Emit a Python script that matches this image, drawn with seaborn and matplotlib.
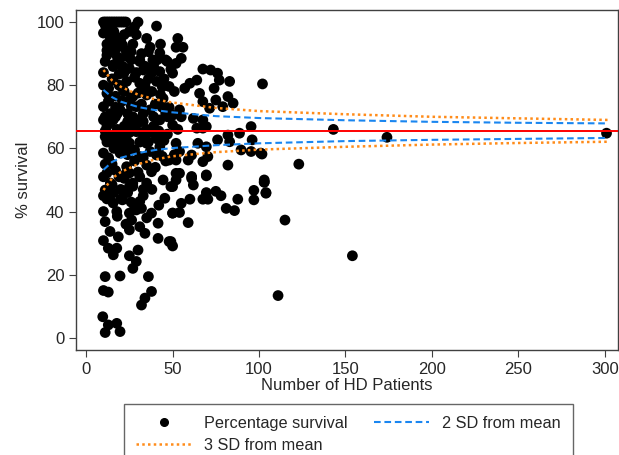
import numpy as np
import pandas as pd
import seaborn as sns
import matplotlib.pyplot as plt
from matplotlib.lines import Line2D

# data
n_patients = [
    10, 11, 12, 13, 14, 15, 16, 17, 18, 19, 20, 21, 22, 23,
    30, 28, 40.7, 10, 17.7, 35, 12, 21, 15.6, 26, 36, 42.6, 52, 31, 38.6, 47,
    11, 19.6, 15.6, 25, 33, 42.6, 50, 15.6, 23.4, 31, 40.7, 48, 12, 27, 35, 44.5,
    10, 19.6, 29, 37, 46, 15.6, 24, 33, 42.6, 12, 50, 19.6, 29, 38.6, 46, 11,
    15.6, 25, 35, 42.6, 52, 10, 19.6, 31, 40.7, 48, 13.8, 23.4, 35, 12, 25, 37.8,
    11, 15.6, 25, 35, 44.5, 50, 15.6, 21, 31, 10, 17.7, 25, 32, 37.8, 45.5, 50,
    11, 26.3, 41.6, 13.8, 25, 31, 34, 41.6, 48, 10, 18.6, 12.8, 17.7, 15.7, 30, 25,
    29, 27, 11, 19.6, 36, 10, 12.8, 37.8, 34, 32, 9.6, 12.8, 11, 17.7, 19.6,
    53, 56, 55, 52, 67.5, 72, 76, 77, 83, 64, 60, 57, 65.6, 74, 51, 67.5, 75, 82,
    85, 79, 71.4, 102, 54, 55, 62, 67.5, 64, 67.5, 69.5, 82, 88.7, 95.4, 76, 83,
    96, 64.6, 69.5, 89.6, 95.4, 101, 54, 61, 70.4, 52, 59, 67.5, 82, 61, 69.5, 52,
    103, 54, 52, 61, 62, 69.5, 49, 55, 60, 67.5, 70.4, 69.5, 75, 78, 87.7, 81,
    85.8, 50, 54, 59, 49, 50, 97, 97, 103, 104,
    143, 174, 301, 101.7, 123, 103, 104, 115, 154, 111,
    11, 13, 14, 18, 22, 24, 27, 12, 16, 19, 21, 28, 32, 34, 36, 38, 13, 17, 22,
    26, 30, 33, 40, 44, 14, 18, 23, 27, 31, 35, 39, 42, 45, 11, 16, 20, 24, 28,
    33, 37, 40, 44, 13, 17, 22, 27, 30, 33, 38, 42, 46, 15, 20, 26, 29, 35, 12,
    18, 23, 10, 10, 10, 10, 48, 50, 47, 51, 53,
    12, 14, 16, 18, 20, 23, 25, 29, 31, 37, 39, 43, 46, 49, 12, 15, 19, 22, 26,
    29, 34, 38, 41, 45, 10, 13, 17, 21, 24, 27, 32, 36, 43, 47, 11, 14, 18, 22,
    25, 30, 34, 39, 44, 12, 16, 20, 24, 28, 32, 36, 41, 11, 15, 19, 23, 27, 31,
    13, 17, 21, 26, 30, 34, 39, 14, 20, 24, 28, 33,
]
pct_survival = [
    100, 100, 100, 100, 100, 100, 100, 100, 100, 100, 100, 100, 100, 100,
    100, 98.5, 98.7, 96.5, 95, 94.8, 93, 92.7, 91, 90.6, 90.6, 90.2, 92, 87.5, 88, 87.5,
    87.5, 88.5, 85.9, 85.3, 84.8, 84.3, 83.8, 81.6, 81.2, 80.6, 81.2, 79.6, 77.4, 76.4, 76.9, 75.8,
    73.2, 72.2, 73.2, 72.2, 71.1, 69, 68.5, 68.5, 69, 67, 67.4, 64.9, 65.3, 64.9, 64.2, 63.7,
    61.7, 61.7, 61.6, 60.5, 61.6, 58.5, 58.5, 57.4, 57.9, 56.3, 55.4, 54.2, 54.7, 52.2, 52.2, 52.6,
    46.8, 45.9, 47.9, 49, 50, 47.9, 42.7, 43.7, 43.2, 40, 40, 39.5, 41, 39.5, 44.2, 39.5,
    36.8, 37.3, 36.3, 33.7, 34.2, 35.2, 33.1, 31.5, 30.5, 30.8, 32, 28.4, 28.4, 26.3, 27.8, 26,
    24.2, 22, 19.4, 19.6, 19.4, 15, 14.5, 14.7, 12.6, 10.4, 6.7, 4.1, 1.7, 4.6, 2.0,
    94.8, 92, 88.5, 86.9, 85.1, 84.8, 83.8, 81.6, 81.2, 81.6, 80.6, 79, 77.4, 79, 78, 74.8, 75.3, 76.4,
    74.3, 73.2, 72.7, 80.4, 72.2, 70, 69.5, 69, 66.4, 66.4, 66.9, 64.2, 64.8, 66.9, 62.7, 62.1,
    62.7, 61.6, 60.5, 59.5, 59, 58.5, 59, 57.9, 57.4, 56.3, 56.3, 55.8, 54.7, 51.1, 51.6, 52.1,
    50, 52.1, 50, 50.5, 48.4, 51.3, 47.9, 42.6, 43.9, 43.9, 43.9, 46, 46.4, 45, 43.9, 41,
    40.3, 39.5, 39.7, 36.5, 30.5, 29.1, 46.7, 43.7, 49.3, 45.8,
    66, 63.5, 64.8, 58.2, 55, 49.3, 46, 37.3, 26, 13.4,
    99, 97.5, 93.5, 92, 96, 89, 93, 89.5, 86.5, 83.5, 86, 82.5, 90, 86, 82, 78, 79, 76.5, 78,
    73.5, 77.5, 71, 74, 79.5, 71, 66, 63.5, 67, 62, 66, 70, 65.5, 62.5, 65.5, 64, 61, 58, 59.5,
    57, 59, 54, 57.5, 57, 53, 50.5, 49, 52.5, 45, 47, 42, 56, 48.5, 47, 43, 40.5, 38, 44,
    38.5, 36, 84, 69, 51, 45, 73, 70.5, 64.5, 58, 66,
    98, 95, 97, 89, 94, 91, 97, 96, 88, 92, 86, 93, 88, 85, 91, 82, 80, 84, 88,
    84, 79, 84, 88, 82, 80, 75, 73, 75, 71, 70, 74, 78, 77, 70, 70, 68, 71, 67,
    65, 69, 64, 67, 73, 62, 60, 63, 60, 56, 65, 62, 63, 55, 55, 51, 52, 48, 51,
    75, 70, 79, 76, 68, 80, 85, 49, 44, 46, 41, 47,
]

overall_mean = 65.5

# control limits read along the funnel
limit_n = [10, 15, 20, 30, 40, 50, 75, 100, 150, 200, 250, 302]
upper_2sd = [78.5, 76.2, 74.8, 73.1, 72.1, 71.4, 70.2, 69.6, 68.9, 68.4, 68.1, 67.9]
lower_2sd = [53.2, 55.7, 57.0, 58.5, 59.5, 60.1, 61.0, 61.6, 62.3, 62.7, 63.0, 63.3]
upper_3sd = [84.8, 81.5, 79.5, 77.0, 75.5, 74.5, 72.8, 71.8, 70.8, 70.0, 69.5, 69.0]
lower_3sd = [46.8, 50.5, 52.5, 55.0, 56.5, 57.5, 58.8, 59.6, 60.5, 61.2, 61.7, 62.1]

df = pd.DataFrame({"n": n_patients, "pct": pct_survival})
lim = pd.DataFrame({"n": limit_n, "u2": upper_2sd, "l2": lower_2sd,
                    "u3": upper_3sd, "l3": lower_3sd})

sns.set_style("ticks")
plt.rcParams['font.family'] = ['Liberation Sans', 'DejaVu Sans']

blue = "#1a86f0"
orange = "#ff8c1a"
dash2 = (0, (3.2, 1.8))
dot3 = (0, (1, 1.3))

fig = plt.figure(figsize=(6.19, 4.55), dpi=100)
ax = fig.add_axes([0.123, 0.231, 0.875, 0.747])

sns.scatterplot(data=df, x="n", y="pct", color="black", s=60,
                edgecolor="none", ax=ax, zorder=2)

ax.axhline(overall_mean, color="#ff0000", lw=1.4, zorder=3)

for col in ["u3", "l3"]:
    sns.lineplot(data=lim, x="n", y=col, color=orange, lw=1.8,
                 linestyle=dot3, ax=ax, zorder=4)
for col in ["u2", "l2"]:
    sns.lineplot(data=lim, x="n", y=col, color=blue, lw=1.5,
                 linestyle=dash2, ax=ax, zorder=4)

ax.set_xlim(-5.8, 307.5)
ax.set_ylim(-3.8, 103.8)
ax.set_xticks(range(0, 301, 50))
ax.set_yticks(range(0, 101, 20))
ax.set_xlabel("Number of HD Patients", fontsize=12, labelpad=1)
ax.set_ylabel("% survival", fontsize=12)
ax.tick_params(labelsize=12, length=5, color="#404040")
for s in ax.spines.values():
    s.set_color("#404040")
    s.set_linewidth(1.0)

# order chosen so the two-column legend reads row by row like the original
handles = [
    Line2D([], [], marker="o", color="black", ls="none", markersize=5.5),
    Line2D([], [], color=orange, lw=1.8, linestyle=dot3),
    Line2D([], [], color=blue, lw=1.5, linestyle=dash2),
]
labels = ["Percentage survival", "3 SD from mean", "2 SD from mean"]
fig.legend(handles, labels, loc="upper left", bbox_to_anchor=(0.2003, 0.1121),
           borderaxespad=0, ncol=2, fontsize=11.7, frameon=True, fancybox=False,
           edgecolor="#404040", handlelength=3.4, columnspacing=1.6,
           labelspacing=0.4, borderpad=0.75)

fig.savefig("out.png", dpi=100)
